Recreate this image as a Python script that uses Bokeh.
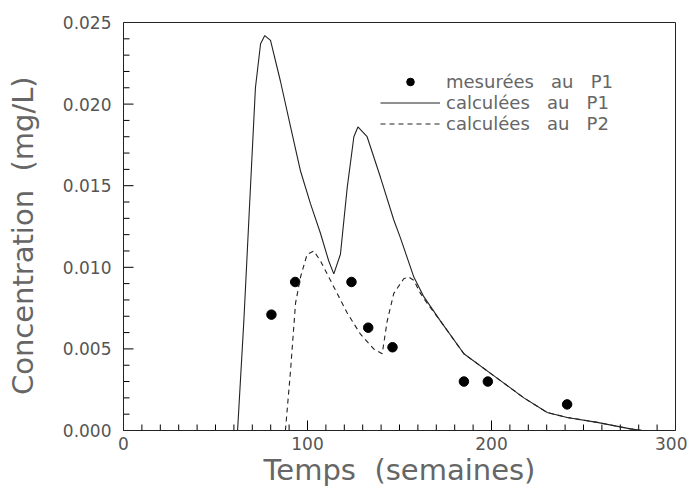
from bokeh.plotting import figure
from bokeh.models import SingleIntervalTicker, Legend, LegendItem, Range1d, CustomJSTickFormatter
from bokeh.embed import file_html
from bokeh.resources import INLINE

# Calculated concentration at P1 (solid)
t_p1 = [62, 65.4, 69, 71.7, 74.5, 76.8, 79.9, 85.3, 90.8, 96.2, 101.6, 107, 111.5,
        114.3, 117.9, 121.6, 125.2, 127.4, 132.4, 139.7, 146.9, 150.5, 157.8, 163.2,
        172.3, 185, 199.5, 217.6, 230.3, 241.1, 257.4, 275.5, 282]
c_p1 = [0.0, 0.0067, 0.0149, 0.021, 0.0237, 0.0242, 0.0239, 0.0214, 0.0186, 0.0159,
        0.0139, 0.0121, 0.0104, 0.0096, 0.0108, 0.0149, 0.018, 0.0186, 0.018, 0.0155,
        0.0129, 0.0118, 0.0094, 0.0082, 0.0067, 0.0047, 0.0035, 0.0020, 0.0011,
        0.0008, 0.0005, 0.0001, 0.0]

# Calculated concentration at P2 (dashed)
t_p2 = [88, 90.8, 93.5, 96.2, 99.8, 103.4, 107, 114.3, 121.6, 128.8, 136, 140.6,
        143.3, 146.9, 152.3, 155, 157.8, 161.4, 165, 172.3, 185, 199.5, 217.6, 230.3,
        241.1, 257.4, 275.5, 282]
c_p2 = [0.0, 0.0037, 0.0078, 0.0094, 0.0108, 0.011, 0.0104, 0.0088, 0.0072, 0.0059,
        0.005, 0.0047, 0.0067, 0.0084, 0.0093, 0.0094, 0.0092, 0.0084, 0.0078, 0.0067,
        0.0047, 0.0035, 0.0020, 0.0011, 0.0008, 0.0005, 0.0001, 0.0]

# Measured at P1 (dots)
t_mes = [80.4, 93.3, 123.9, 133, 146.2, 185, 198, 241.1]
c_mes = [0.0071, 0.0091, 0.0091, 0.0063, 0.0051, 0.0030, 0.0030, 0.0016]

NB = "\u00a0\u00a0"
NB3 = "\u00a0\u00a0\u00a0"
labels = ["mesurées" + NB3 + "au" + NB3 + "P1",
          "calculées" + NB3 + "au" + NB3 + "P1",
          "calculées" + NB3 + "au" + NB3 + "P2"]

X_MAX, Y_MAX = 300, 0.025
X_MINOR, Y_MINOR = 10, 0.001

FONT = "DejaVu Sans"
TXT = "#666666"

W, H = 687, 492
LEFT, RIGHT, TOP, BOTTOM = 123, 12, 22, 62
FW, FH = W - LEFT - RIGHT, H - TOP - BOTTOM

p = figure(width=W, height=H, output_backend="svg", toolbar_location=None,
           x_range=Range1d(0, X_MAX), y_range=Range1d(0, Y_MAX),
           min_border_left=LEFT, min_border_right=RIGHT, min_border_top=TOP,
           min_border_bottom=BOTTOM)
p.background_fill_color = "white"
p.border_fill_color = "white"
p.outline_line_color = "#222222"
p.outline_line_width = 1
p.grid.visible = False

# inward ticks drawn from the tick positions
px_x = X_MAX / FW   # data units per pixel along x
px_y = Y_MAX / FH   # data units per pixel along y
xt = [i * X_MINOR for i in range(1, int(round(X_MAX / X_MINOR)))]
xt_len = [(10 if i % 10 == 0 else 6) * px_y for i in range(1, len(xt) + 1)]
p.segment(x0=xt, y0=[0] * len(xt), x1=xt, y1=xt_len, line_color="black", line_width=1)
yt = [i * Y_MINOR for i in range(1, int(round(Y_MAX / Y_MINOR)))]
yt_len = [(10 if i % 5 == 0 else 6) * px_x for i in range(1, len(yt) + 1)]
p.segment(x0=[0] * len(yt), y0=yt, x1=yt_len, y1=yt, line_color="black", line_width=1)

r_dots = p.scatter(t_mes, c_mes, size=9.5, color="black")
r_p1 = p.line(t_p1, c_p1, line_color="#222222", line_width=1.1)
r_p2 = p.line(t_p2, c_p2, line_color="#222222", line_width=1.1, line_dash="5 4")

p.xaxis.ticker = SingleIntervalTicker(interval=100, num_minor_ticks=10)
p.yaxis.ticker = SingleIntervalTicker(interval=0.005, num_minor_ticks=5)
p.yaxis.formatter = CustomJSTickFormatter(code="return tick.toFixed(3);")

for ax in (p.xaxis, p.yaxis):
    ax.axis_line_color = "#222222"
    ax.major_tick_line_color = None
    ax.minor_tick_line_color = None
    ax.major_tick_in = 0
    ax.major_tick_out = 0
    ax.minor_tick_in = 0
    ax.minor_tick_out = 0
    ax.major_label_text_font = FONT
    ax.major_label_text_font_size = "17px"
    ax.major_label_text_color = "#555555"
    ax.axis_label_text_font = FONT
    ax.axis_label_text_font_size = "29px"
    ax.axis_label_text_font_style = "normal"
    ax.axis_label_text_color = TXT

p.xaxis.axis_label = "Temps" + NB + "(semaines)"
p.yaxis.axis_label = "Concentration" + NB + "(mg/L)" + NB
p.xaxis.major_label_standoff = 6
p.xaxis.axis_label_standoff = 0
p.yaxis.major_label_standoff = 12
p.yaxis.axis_label_standoff = 20

legend = Legend(items=[LegendItem(label=labels[0], renderers=[r_dots]),
                       LegendItem(label=labels[1], renderers=[r_p1]),
                       LegendItem(label=labels[2], renderers=[r_p2])],
                location=(257, 296))
legend.background_fill_alpha = 0
legend.border_line_alpha = 0
legend.padding = 0
legend.margin = 0
legend.spacing = 0
legend.glyph_width = 60
legend.glyph_height = 19
legend.label_height = 19
legend.label_standoff = 6
legend.label_text_font = FONT
legend.label_text_font_size = "18px"
legend.label_text_color = TXT
p.add_layout(legend)

open("out.html", "w").write(file_html(p, INLINE))
